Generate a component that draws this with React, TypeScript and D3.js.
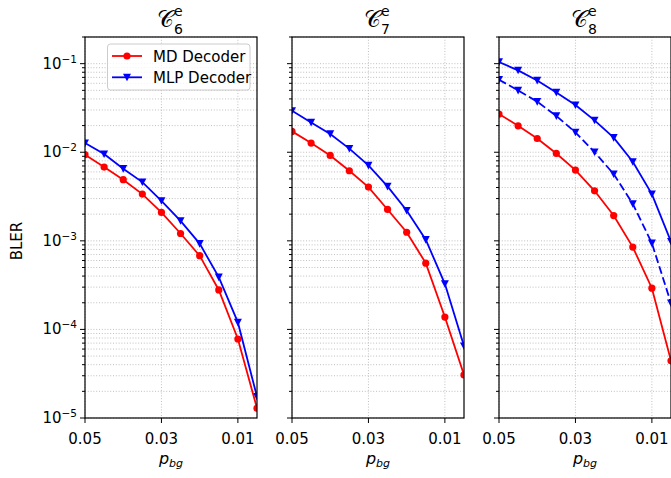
import React, { useEffect, useRef } from 'react'
import * as d3 from 'd3'

// Data
const pbg = [0.05, 0.045, 0.04, 0.035, 0.03, 0.025, 0.02, 0.015, 0.01, 0.005]

const md6 = [0.0094, 0.0068, 0.0049, 0.00337, 0.00209, 0.00121, 0.00068, 0.000279, 0.000078, 0.0000129]
const mlp6 = [0.0127, 0.00955, 0.00652, 0.0046, 0.00283, 0.00168, 0.00093, 0.000389, 0.00012, 0.0000174]

const md7 = [0.0172, 0.0127, 0.0092, 0.00618, 0.00404, 0.00226, 0.00125, 0.00056, 0.000138, 0.0000306]
const mlp7 = [0.0294, 0.0217, 0.0161, 0.011, 0.0071, 0.00411, 0.0022, 0.00103, 0.000327, 0.000065]

const md8 = [0.027, 0.0199, 0.0143, 0.00969, 0.00629, 0.00367, 0.00193, 0.00085, 0.000292, 0.0000443]
const mlp8 = [0.1045, 0.084, 0.0647, 0.0474, 0.0341, 0.0229, 0.0146, 0.0078, 0.00337, 0.00098]
const mlp8Dashed = [0.0659, 0.0499, 0.0372, 0.0257, 0.0168, 0.01005, 0.00567, 0.00262, 0.00094, 0.000198]

const panelSubs = ['6', '7', '8']
const xTicks = [0.05, 0.03, 0.01]
const yMajor = [1e-1, 1e-2, 1e-3, 1e-4, 1e-5]
const yExponents = ['\u22121', '\u22122', '\u22123', '\u22124', '\u22125']
const legendLabels = ['MD Decoder', 'MLP Decoder']

const RED = '#ff0000'
const BLUE = '#0000ff'
const FONT = 'DejaVu Sans, sans-serif'

function App() {
    const ref = useRef<SVGSVGElement>(null)

    useEffect(() => {
        const svg = d3.select(ref.current)
        svg.selectAll('*').remove()

        // SVG height, width and layout
        const top = 37
        const bottom = 418
        const panelWidth = 172
        const lefts = [85, 292, 499]

        const yScale = d3.scaleLog().domain([1e-5, 0.2]).range([bottom, top])

        // minor y values
        const yMinor: number[] = []
        for (let e = -5; e <= -1; e++) {
            for (let k = 2; k <= 9; k++) {
                const v = k * Math.pow(10, e)
                if (v <= 0.2) yMinor.push(v)
            }
        }

        const panels = [
            { md: md6, mlp: [mlp6], dashed: null as number[] | null },
            { md: md7, mlp: [mlp7], dashed: null as number[] | null },
            { md: md8, mlp: [mlp8], dashed: mlp8Dashed },
        ]

        const triangle = 'M-4,-3.6L4,-3.6L0,4Z'

        panels.forEach((panel, i) => {
            const left = lefts[i]
            const right = left + panelWidth
            const xScale = d3.scaleLinear().domain([0.05, 0.005]).range([left, right])

            const g = svg.append('g')

            const clipId = 'clip' + i
            svg.append('clipPath').attr('id', clipId)
                .append('rect')
                .attr('x', left).attr('y', top)
                .attr('width', panelWidth).attr('height', bottom - top)

            // Grid
            const grid = g.append('g')
                .attr('stroke', '#b0b0b0')
                .attr('stroke-width', 0.8)
                .attr('stroke-dasharray', '1,1.8')
            yMajor.concat(yMinor).forEach(v => {
                grid.append('line')
                    .attr('x1', left).attr('x2', right)
                    .attr('y1', yScale(v)).attr('y2', yScale(v))
            })
            xTicks.forEach(v => {
                grid.append('line')
                    .attr('x1', xScale(v)).attr('x2', xScale(v))
                    .attr('y1', top).attr('y2', bottom)
            })

            // Lines
            const line = d3.line<number>()
                .x((d, j) => xScale(pbg[j]))
                .y(d => yScale(d))

            const plot = g.append('g').attr('clip-path', `url(#${clipId})`)

            const drawSeries = (values: number[], color: string, marker: string, dashed: boolean) => {
                plot.append('path')
                    .attr('d', line(values))
                    .attr('fill', 'none')
                    .attr('stroke', color)
                    .attr('stroke-width', 1.8)
                    .attr('stroke-dasharray', dashed ? '8,3.5' : null)
                values.forEach((v, j) => {
                    if (marker === 'o') {
                        plot.append('circle')
                            .attr('cx', xScale(pbg[j]))
                            .attr('cy', yScale(v))
                            .attr('r', 3.6)
                            .attr('fill', color)
                    } else {
                        plot.append('path')
                            .attr('d', triangle)
                            .attr('transform', `translate(${xScale(pbg[j])},${yScale(v)})`)
                            .attr('fill', color)
                    }
                })
            }

            if (panel.dashed) drawSeries(panel.dashed, BLUE, 'v', true)
            panel.mlp.forEach(s => drawSeries(s, BLUE, 'v', false))
            drawSeries(panel.md, RED, 'o', false)

            // Y ticks
            const ticks = g.append('g').attr('stroke', '#000').attr('stroke-width', 1)
            yMajor.forEach(v => {
                ticks.append('line')
                    .attr('x1', left - 5).attr('x2', left)
                    .attr('y1', yScale(v)).attr('y2', yScale(v))
            })
            yMinor.forEach(v => {
                ticks.append('line')
                    .attr('x1', left - 3).attr('x2', left)
                    .attr('y1', yScale(v)).attr('y2', yScale(v))
            })
            // X ticks
            xTicks.forEach(v => {
                ticks.append('line')
                    .attr('x1', xScale(v)).attr('x2', xScale(v))
                    .attr('y1', bottom).attr('y2', bottom + 5)
            })

            // Frame
            g.append('rect')
                .attr('x', left).attr('y', top)
                .attr('width', panelWidth).attr('height', bottom - top)
                .attr('fill', 'none')
                .attr('stroke', '#000')
                .attr('stroke-width', 1.2)

            // X tick labels
            xTicks.forEach(v => {
                g.append('text')
                    .text(d3.format('.2f')(v))
                    .attr('x', xScale(v))
                    .attr('y', bottom + 26)
                    .attr('text-anchor', 'middle')
                    .attr('font-family', FONT)
                    .attr('font-size', '15px')
                    .attr('fill', '#000')
            })

            // X label
            const cx = left + panelWidth / 2
            const xl = g.append('text')
                .attr('x', cx)
                .attr('y', 464)
                .attr('text-anchor', 'middle')
                .attr('font-family', FONT)
                .attr('font-style', 'italic')
                .attr('font-size', '16px')
                .attr('fill', '#000')
            xl.append('tspan').text('p')
            xl.append('tspan').text('bg').attr('font-size', '11px').attr('dy', 3)

            // Title: C with superscript e and subscript n
            g.append('text')
                .text('\u{1D49E}')
                .attr('x', cx + 3)
                .attr('y', 27)
                .attr('text-anchor', 'end')
                .attr('font-family', 'DejaVu Sans, DejaVu Serif, serif')
                .attr('font-size', '23px')
                .attr('fill', '#000')
            g.append('text')
                .text('e')
                .attr('x', cx + 3)
                .attr('y', 16)
                .attr('font-family', FONT)
                .attr('font-size', '14px')
                .attr('fill', '#000')
            g.append('text')
                .text(panelSubs[i])
                .attr('x', cx + 3)
                .attr('y', 34)
                .attr('font-family', FONT)
                .attr('font-size', '14px')
                .attr('fill', '#000')

            // Y tick labels on first panel only
            if (i === 0) {
                yMajor.forEach((v, k) => {
                    const t = g.append('text')
                        .attr('x', left - 8)
                        .attr('y', yScale(v) + 5)
                        .attr('text-anchor', 'end')
                        .attr('font-family', FONT)
                        .attr('font-size', '15px')
                        .attr('fill', '#000')
                    t.append('tspan').text('10')
                    t.append('tspan').text(yExponents[k]).attr('font-size', '10.5px').attr('dy', -6)
                })

                // Legend
                const lg = g.append('g')
                lg.append('rect')
                    .attr('x', 107.5).attr('y', 44)
                    .attr('width', 142.5).attr('height', 46)
                    .attr('rx', 3)
                    .attr('fill', '#fff')
                    .attr('fill-opacity', 0.8)
                    .attr('stroke', '#cccccc')
                    .attr('stroke-width', 1)
                const colors = [RED, BLUE]
                legendLabels.forEach((label, k) => {
                    const ly = 56 + k * 21.3
                    lg.append('line')
                        .attr('x1', 112).attr('x2', 142)
                        .attr('y1', ly).attr('y2', ly)
                        .attr('stroke', colors[k])
                        .attr('stroke-width', 1.8)
                    if (k === 0) {
                        lg.append('circle').attr('cx', 127).attr('cy', ly).attr('r', 3.6).attr('fill', RED)
                    } else {
                        lg.append('path').attr('d', triangle)
                            .attr('transform', `translate(127,${ly})`).attr('fill', BLUE)
                    }
                    lg.append('text')
                        .text(label)
                        .attr('x', 153)
                        .attr('y', ly + 5.5)
                        .attr('font-family', FONT)
                        .attr('font-size', '15px')
                        .attr('fill', '#000')
                })
            }
        })

        // Y label
        svg.append('text')
            .text('BLER')
            .attr('transform', 'translate(22,241) rotate(-90)')
            .attr('text-anchor', 'middle')
            .attr('font-family', FONT)
            .attr('font-size', '15px')
            .attr('fill', '#000')
    }, [])

    return (
        <svg
            ref={ref}
            width={671}
            height={478}
            style={{ position: 'absolute', left: 0, top: 0, background: '#fff' }}
        />
    )
}

export default App
